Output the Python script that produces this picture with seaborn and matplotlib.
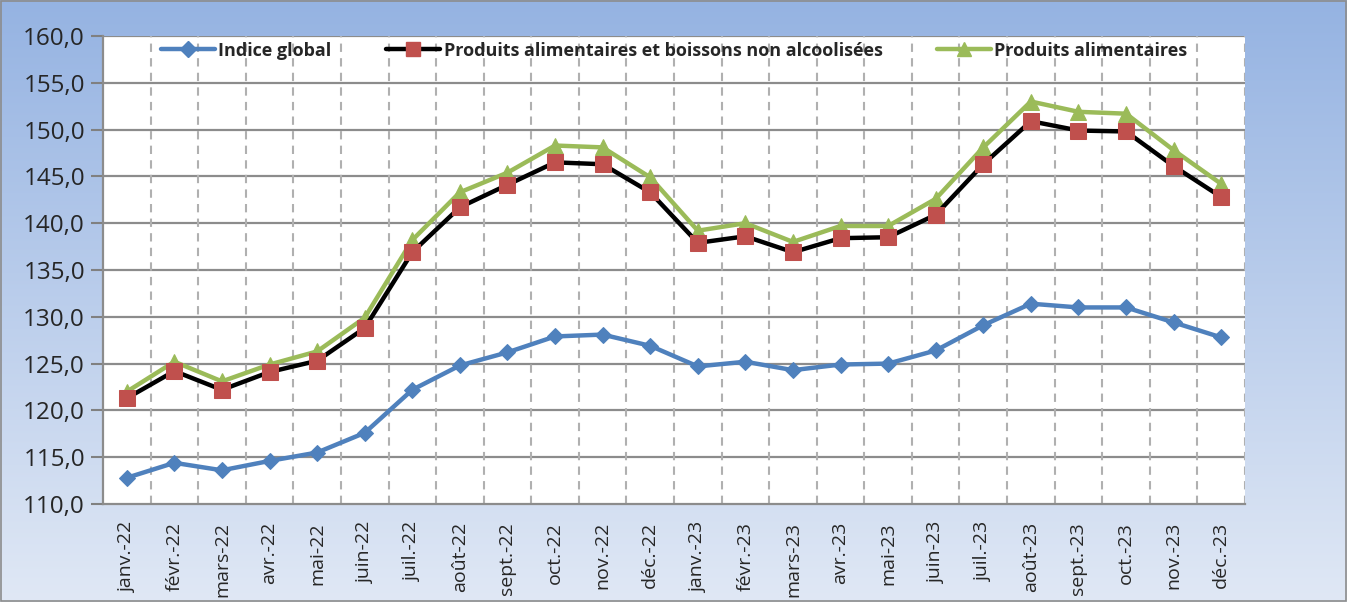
import numpy as np
import pandas as pd
import matplotlib
matplotlib.use("Agg")
import matplotlib.pyplot as plt
from matplotlib.ticker import FuncFormatter
from matplotlib.lines import Line2D
import seaborn as sns

months = ["janv.-22", "févr.-22", "mars-22", "avr.-22", "mai-22", "juin-22", "juil.-22", "août-22",
          "sept.-22", "oct.-22", "nov.-22", "déc.-22", "janv.-23", "févr.-23", "mars-23", "avr.-23",
          "mai-23", "juin-23", "juil.-23", "août-23", "sept.-23", "oct.-23", "nov.-23", "déc.-23"]

indice_global = [112.8, 114.4, 113.6, 114.6, 115.5, 117.6, 122.2, 124.8, 126.2, 127.9, 128.1, 126.9,
                 124.7, 125.2, 124.3, 124.9, 125.0, 126.4, 129.1, 131.4, 131.0, 131.0, 129.4, 127.8]
alim_boissons = [121.3, 124.2, 122.2, 124.1, 125.3, 128.8, 136.9, 141.7, 144.1, 146.5, 146.3, 143.3,
                 137.9, 138.6, 136.9, 138.4, 138.5, 140.9, 146.3, 150.9, 149.9, 149.8, 146.1, 142.8]
alimentaires = [122.0, 125.2, 123.1, 124.9, 126.3, 129.9, 138.2, 143.3, 145.4, 148.3, 148.1, 144.9,
                139.2, 140.0, 138.0, 139.7, 139.7, 142.6, 148.1, 153.0, 151.9, 151.7, 147.8, 144.2]

series_names = ["Indice global", "Produits alimentaires et boissons non alcoolisées", "Produits alimentaires"]

sns.set_theme(style="white")
plt.rcParams['font.family'] = ['Open Sans', 'DejaVu Sans']

W, H = 1347, 602
fig = plt.figure(figsize=(W / 100, H / 100), dpi=100)

# background gradient
bg = fig.add_axes([0, 0, 1, 1], zorder=-10)
grad = np.linspace(0, 1, 256)[:, None]
top = np.array([0x95, 0xB3, 0xE2]) / 255
bot = np.array([0xE0, 0xE8, 0xF5]) / 255
img = top[None, None, :] * (1 - grad[:, :, None]) + bot[None, None, :] * grad[:, :, None]
bg.imshow(img, aspect="auto", extent=[0, 1, 0, 1], origin="upper")
bg.set_xlim(0, 1); bg.set_ylim(0, 1)
bg.axis("off")
bg.add_patch(plt.Rectangle((0.001, 0.002), 0.998, 0.996, fill=False, edgecolor="#8c8c8c", lw=1.2))

ax = fig.add_axes([103 / W, 1 - 504 / H, (1245 - 103) / W, (504 - 36) / H])
ax.set_facecolor("white")

x = np.arange(len(months))
df = pd.DataFrame({"x": x, "g": indice_global, "ab": alim_boissons, "a": alimentaires})

sns.lineplot(data=df, x="x", y="g", ax=ax, color="#4F81BD", lw=3.2, marker="D", markersize=8.5,
             markeredgecolor="#4F81BD", markerfacecolor="#4F81BD", zorder=5)
sns.lineplot(data=df, x="x", y="ab", ax=ax, color="black", lw=3.2, marker="s", markersize=11,
             markeredgecolor="#C0504D", markerfacecolor="#C0504D", zorder=5)
sns.lineplot(data=df, x="x", y="a", ax=ax, color="#9BBB59", lw=3.2, marker="^", markersize=11,
             markeredgecolor="#9BBB59", markerfacecolor="#9BBB59", zorder=4)

ax.set_xlim(-0.5, len(months) - 0.5)
ax.set_ylim(110, 160)
ax.set_yticks(np.arange(110, 161, 5))
ax.yaxis.set_major_formatter(FuncFormatter(lambda v, p: f"{v:.1f}".replace(".", ",")))
ax.set_xticks(x)
ax.set_xticklabels(months, rotation=90, fontsize=14)
ax.tick_params(axis="x", length=0, pad=13)
ax.set_xticks(np.arange(-0.5, len(months), 1), minor=True)
ax.tick_params(axis="x", which="minor", length=8, color="#808080", width=1.5, direction="out")
ax.tick_params(axis="y", labelsize=17.5, length=9, color="#808080", width=1.5, direction="out", left=True, pad=4)
ax.set_xlabel(""); ax.set_ylabel("")

ax.grid(False)
for yv in np.arange(115, 161, 5):
    ax.axhline(yv, color="#8c8c8c", lw=1.6, zorder=1)
for xv in np.arange(0.5, len(months), 1):
    ax.axvline(xv, color="#b0b0b0", lw=1.5, ls=(0, (4, 3)), zorder=1)

for s in ["top", "right"]:
    ax.spines[s].set_visible(False)
for s in ["left", "bottom"]:
    ax.spines[s].set_color("#8c8c8c")
    ax.spines[s].set_linewidth(1.6)

handles = [
    Line2D([], [], color="#4F81BD", lw=3.2, marker="D", markersize=8, markerfacecolor="#4F81BD", markeredgecolor="#4F81BD"),
    Line2D([], [], color="black", lw=3.2, marker="s", markersize=10, markerfacecolor="#C0504D", markeredgecolor="#C0504D"),
    Line2D([], [], color="#9BBB59", lw=3.2, marker="^", markersize=10, markerfacecolor="#9BBB59", markeredgecolor="#9BBB59"),
]
leg = ax.legend(handles, series_names, loc="upper center", bbox_to_anchor=(0.5, 1.015), ncol=3, frameon=False,
                handlelength=3.0, handletextpad=0.2, columnspacing=3.0, borderpad=0.2,
                prop={"weight": "bold", "size": 13})

fig.savefig("out.png", dpi=100)
